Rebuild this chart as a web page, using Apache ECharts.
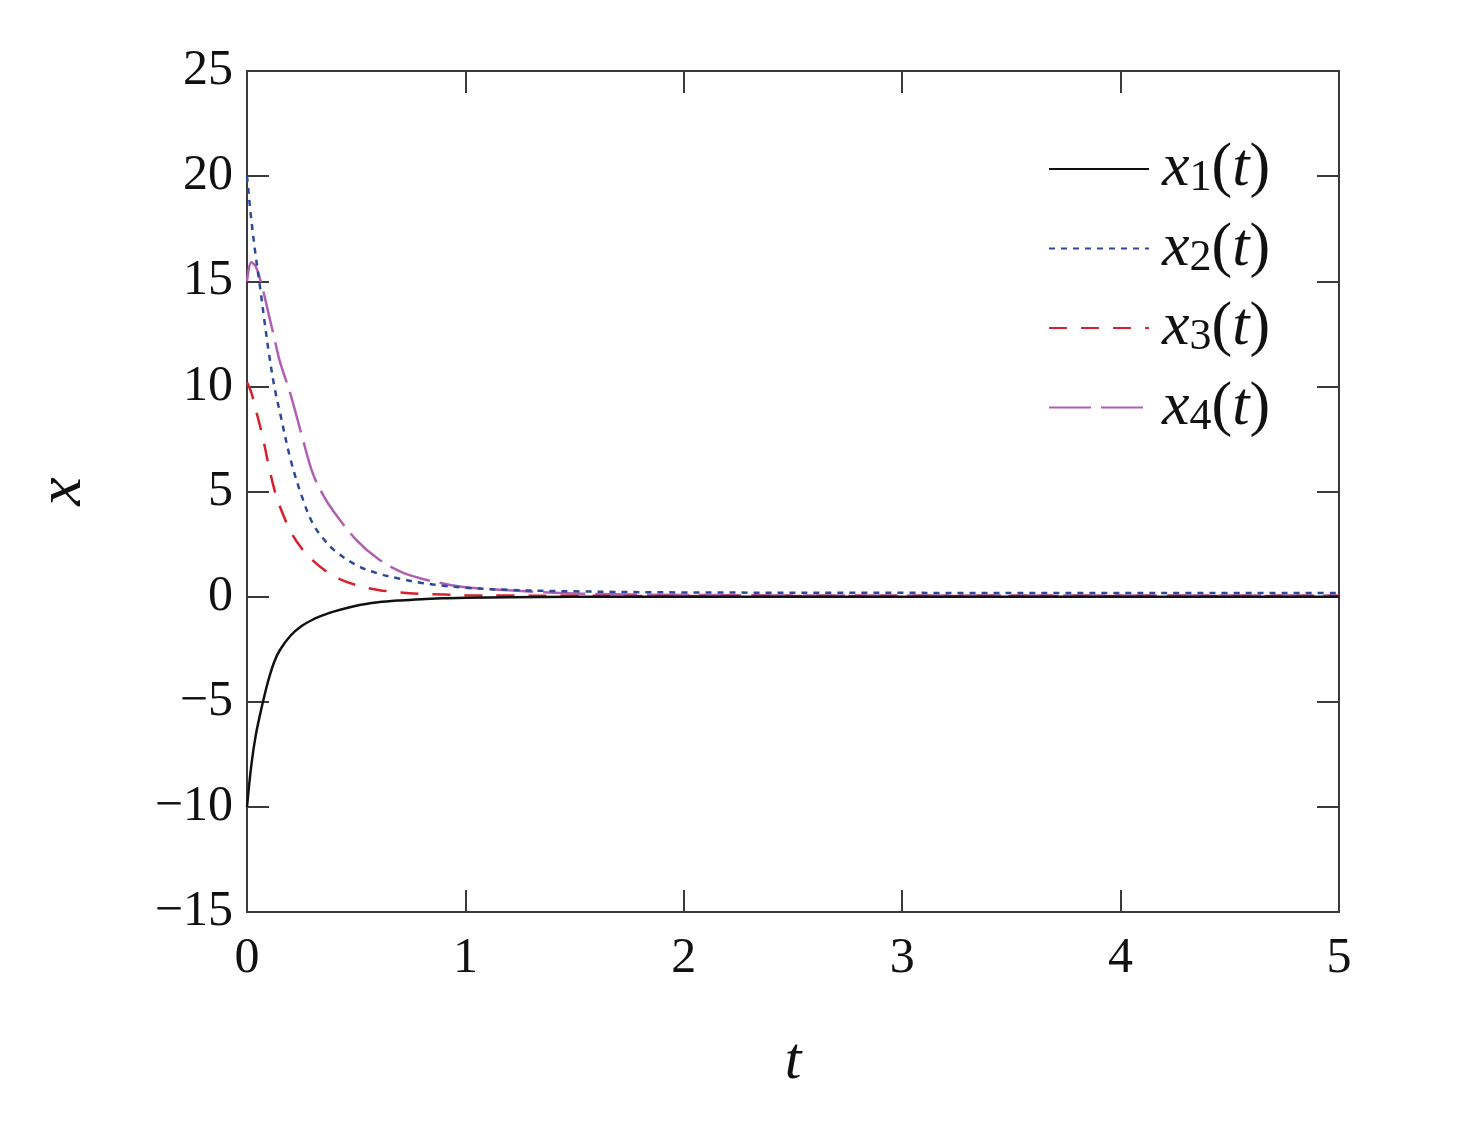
<!DOCTYPE html>
<html>
<head>
<meta charset="utf-8">
<script src="https://cdn.jsdelivr.net/npm/echarts@6/dist/echarts.min.js"></script>
<style>html,body{margin:0;padding:0;background:#fff}#c{width:1458px;height:1125px}</style>
</head>
<body>
<div id="c"></div>
<script>
const tVals = [0, 0.02, 0.04, 0.06, 0.08, 0.1, 0.125, 0.15, 0.2, 0.25, 0.3, 0.35, 0.4, 0.5, 0.6, 0.7, 0.8, 0.9, 1.0, 1.2, 1.5, 2, 3, 4, 5];
const x1 = [-10, -8.0, -6.6, -5.6, -4.7, -3.9, -3.1, -2.55, -1.85, -1.4, -1.1, -0.88, -0.7, -0.43, -0.27, -0.18, -0.12, -0.08, -0.05, -0.03, -0.01, 0, 0, 0, 0];
const x2 = [20, 17.9, 16.2, 14.7, 13.1, 11.6, 10.0, 8.8, 6.5, 4.8, 3.5, 2.75, 2.2, 1.5, 1.1, 0.85, 0.65, 0.52, 0.42, 0.32, 0.25, 0.2, 0.18, 0.17, 0.17];
const x3 = [10.2, 9.7, 8.9, 8.1, 7.2, 6.2, 5.1, 4.3, 3.1, 2.3, 1.74, 1.3, 0.95, 0.55, 0.32, 0.2, 0.13, 0.1, 0.07, 0.05, 0.04, 0.03, 0.03, 0.03, 0.03];
const x4 = [15, 15.9, 15.7, 15.1, 14.3, 13.4, 12.3, 11.2, 9.6, 7.7, 5.9, 4.8, 4.0, 2.7, 1.8, 1.2, 0.85, 0.62, 0.45, 0.3, 0.15, 0.08, 0.05, 0.05, 0.05];
const xTicks = [0, 1, 2, 3, 4, 5];
const yTicks = [-15, -10, -5, 0, 5, 10, 15, 20, 25];
const seriesNames = ['x1(t)', 'x2(t)', 'x3(t)', 'x4(t)'];
const seriesColors = ['#111111', '#2c4a9a', '#d8202c', '#b05fb3'];
const seriesDash = ['solid', [6, 6], [18, 14], [42, 10]];
const seriesData = [x1, x2, x3, x4];
const subs = ['1', '2', '3', '4'];

const chart = echarts.init(document.getElementById('c'), null, {renderer: 'canvas'});
const serif = '"Liberation Serif", "Times New Roman", serif';
const axisColor = '#3a3a3a';
function fmtNum(v) { return v < 0 ? '\u2212' + Math.abs(v) : String(v); }

const series = seriesNames.map((n, i) => ({
  name: n,
  type: 'line',
  smooth: 0.35,
  symbol: 'none',
  data: tVals.map((t, j) => [t, seriesData[i][j]]),
  lineStyle: {color: seriesColors[i], width: 2.5, type: seriesDash[i]},
  itemStyle: {color: seriesColors[i]},
  z: 10 - i
}));

chart.setOption({
  animation: false,
  backgroundColor: '#fff',
  grid: {left: 247, right: 119, top: 71, bottom: 213, containLabel: false},
  legend: {
    orient: 'vertical',
    left: 1043,
    top: 133,
    width: 320,
    height: 360,
    itemWidth: 100,
    itemHeight: 14,
    itemGap: 17,
    itemStyle: {color: 'rgba(0,0,0,0)', borderColor: 'rgba(0,0,0,0)', borderWidth: 0},
    data: seriesNames,
    formatter: function (name) {
      const k = seriesNames.indexOf(name);
      return '{i|x}{s|' + subs[k] + '}{n|(}{i|t}{n|)}';
    },
    textStyle: {
      fontFamily: serif,
      fontSize: 60,
      color: '#111',
      padding: [0, 0, 0, 8],
      rich: {
        i: {fontFamily: serif, fontStyle: 'italic', fontSize: 62, lineHeight: 63, color: '#111'},
        n: {fontFamily: serif, fontSize: 62, lineHeight: 63, color: '#111'},
        s: {fontFamily: serif, fontSize: 44, lineHeight: 30, verticalAlign: 'bottom', color: '#111'}
      }
    }
  },
  xAxis: [{
    type: 'value', min: 0, max: 5, interval: 1, position: 'bottom',
    name: 't', nameLocation: 'middle', nameGap: 120,
    nameTextStyle: {fontFamily: serif, fontStyle: 'italic', fontSize: 60, color: '#111'},
    axisLine: {show: true, onZero: false, lineStyle: {color: axisColor, width: 2}},
    axisTick: {show: true, inside: true, length: 22, lineStyle: {color: axisColor, width: 2}},
    axisLabel: {fontFamily: serif, fontSize: 50, color: '#111', margin: 22, formatter: fmtNum},
    splitLine: {show: false}
  }, {
    type: 'value', min: 0, max: 5, interval: 1, position: 'top',
    axisLine: {show: true, onZero: false, lineStyle: {color: axisColor, width: 2}},
    axisTick: {show: true, inside: true, length: 22, lineStyle: {color: axisColor, width: 2}},
    axisLabel: {show: false}, splitLine: {show: false}
  }],
  yAxis: [{
    type: 'value', min: -15, max: 25, interval: 5, position: 'left',
    name: 'x', nameLocation: 'middle', nameGap: 152, nameRotate: 90,
    nameTextStyle: {fontFamily: serif, fontStyle: 'italic', fontSize: 64, color: '#111'},
    axisLine: {show: true, onZero: false, lineStyle: {color: axisColor, width: 2}},
    axisTick: {show: true, inside: true, length: 22, lineStyle: {color: axisColor, width: 2}},
    axisLabel: {fontFamily: serif, fontSize: 50, color: '#111', margin: 14, formatter: fmtNum},
    splitLine: {show: false}
  }, {
    type: 'value', min: -15, max: 25, interval: 5, position: 'right',
    axisLine: {show: true, onZero: false, lineStyle: {color: axisColor, width: 2}},
    axisTick: {show: true, inside: true, length: 22, lineStyle: {color: axisColor, width: 2}},
    axisLabel: {show: false}, splitLine: {show: false}
  }],
  series: series
});
</script>
</body>
</html>
